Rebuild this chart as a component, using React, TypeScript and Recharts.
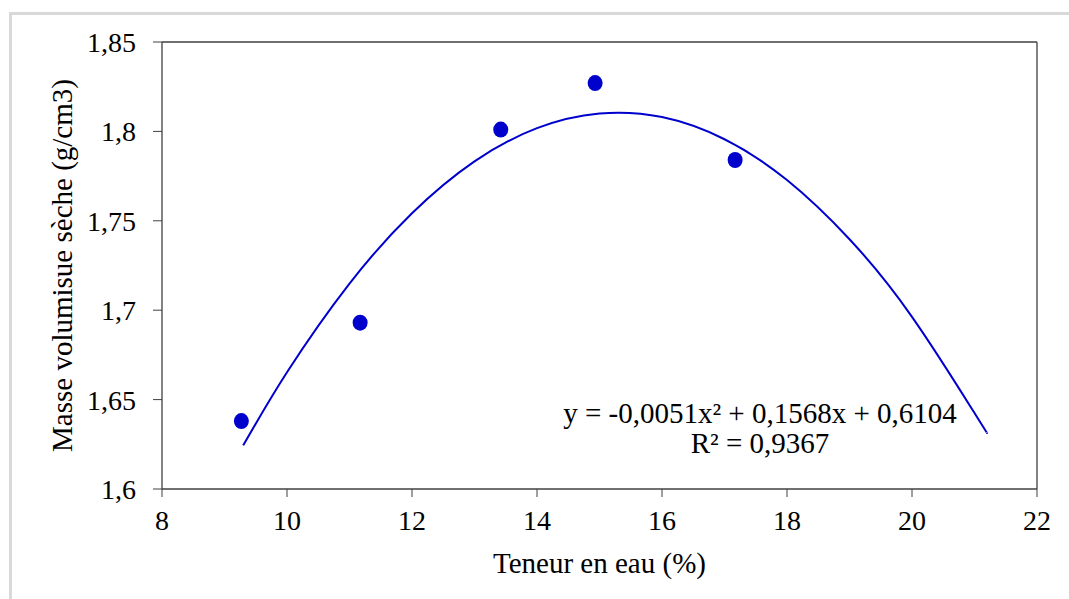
import React from "react";
import {
  ComposedChart,
  Line,
  Scatter,
  XAxis,
  YAxis,
  ReferenceLine,
} from "recharts";

// Measured points (Teneur en eau %, Masse volumique sèche g/cm3)
const teneurEau = [9.27, 11.17, 13.42, 14.93, 17.17];
const masseVolumique = [1.638, 1.693, 1.801, 1.827, 1.784];

// Trendline
const trendX = [9.3, 10, 11, 12, 13, 14, 15, 16, 17, 18, 19, 20, 21, 21.2];
const trendY = [1.6244, 1.6653, 1.7149, 1.7542, 1.7832, 1.8018, 1.81, 1.808, 1.7956, 1.7728, 1.7397, 1.6963, 1.6425, 1.6315];

const xTicks = [8, 10, 12, 14, 16, 18, 20, 22];
const yTicks = [1.6, 1.65, 1.7, 1.75, 1.8, 1.85];

const equationText = "y = -0,0051x² + 0,1568x + 0,6104";
const r2Text = "R² = 0,9367";
const xTitle = "Teneur en eau (%)";
const yTitle = "Masse volumisue sèche (g/cm3)";

const points = teneurEau.map((x, i) => ({ x, y: masseVolumique[i] }));
const trend = trendX.map((x, i) => ({ x, y: trendY[i] }));

const FONT = "'Liberation Serif', 'Times New Roman', serif";
const AXIS = "#404040";
const BLUE = "#0000CC";

const fmt = (v: number) => String(v).replace(".", ",");

export default function App() {
  return (
    <div
      style={{
        position: "absolute",
        left: 0,
        top: 0,
        width: 1069,
        height: 599,
        background: "#fff",
        overflow: "hidden",
        fontFamily: FONT,
      }}
    >
      <div
        style={{
          position: "absolute",
          left: 9,
          top: 12,
          width: 1069,
          height: 599,
          borderLeft: "3px solid #d9d9d9",
          borderTop: "3px solid #d9d9d9",
        }}
      />
      <div style={{ position: "absolute", left: 0, top: 0 }}>
        <ComposedChart
          width={1069}
          height={599}
          margin={{ top: 42, right: 32, bottom: 50, left: 0 }}
        >
          <XAxis
            dataKey="x"
            type="number"
            domain={[8, 22]}
            ticks={xTicks}
            interval={0}
            allowDataOverflow
            height={60}
            tickSize={8}
            tickMargin={13}
            stroke={AXIS}
            tickLine={{ stroke: AXIS }}
            axisLine={{ stroke: AXIS, strokeWidth: 1.3 }}
            tick={{ fill: "#000", fontSize: 28, fontFamily: FONT }}
            label={{
              value: xTitle,
              position: "insideBottom",
              offset: -24,
              fill: "#000",
              fontSize: 29,
              fontFamily: FONT,
            }}
          />
          <YAxis
            dataKey="y"
            type="number"
            domain={[1.6, 1.85]}
            ticks={yTicks}
            interval={0}
            allowDataOverflow
            width={162}
            tickSize={9}
            tickMargin={17}
            tickFormatter={fmt}
            stroke={AXIS}
            tickLine={{ stroke: AXIS }}
            axisLine={{ stroke: AXIS, strokeWidth: 1.3 }}
            tick={{ fill: "#000", fontSize: 28, fontFamily: FONT }}
            label={{
              value: yTitle,
              angle: -90,
              position: "insideLeft",
              offset: 62,
              style: { textAnchor: "middle" },
              fill: "#000",
              fontSize: 29,
              fontFamily: FONT,
            }}
          />
          <ReferenceLine y={1.85} stroke={AXIS} strokeWidth={1.3} ifOverflow="visible" />
          <ReferenceLine x={22} stroke={AXIS} strokeWidth={1.3} ifOverflow="visible" />
          <Line
            data={trend}
            dataKey="y"
            type="natural"
            stroke={BLUE}
            strokeWidth={2}
            dot={false}
            activeDot={false}
            isAnimationActive={false}
          />
          <Scatter
            data={points}
            dataKey="y"
            fill={BLUE}
            shape={(p: any) => <ellipse cx={p.cx} cy={p.cy} rx={7.5} ry={8} fill={BLUE} />}
            isAnimationActive={false}
          />
        </ComposedChart>
      </div>
      <div
        style={{
          position: "absolute",
          left: 510,
          width: 500,
          top: 398,
          textAlign: "center",
          fontSize: 29,
          lineHeight: "30px",
          color: "#000",
          fontFamily: FONT,
          whiteSpace: "nowrap",
        }}
      >
        <div>{equationText}</div>
        <div>{r2Text}</div>
      </div>
    </div>
  );
}
